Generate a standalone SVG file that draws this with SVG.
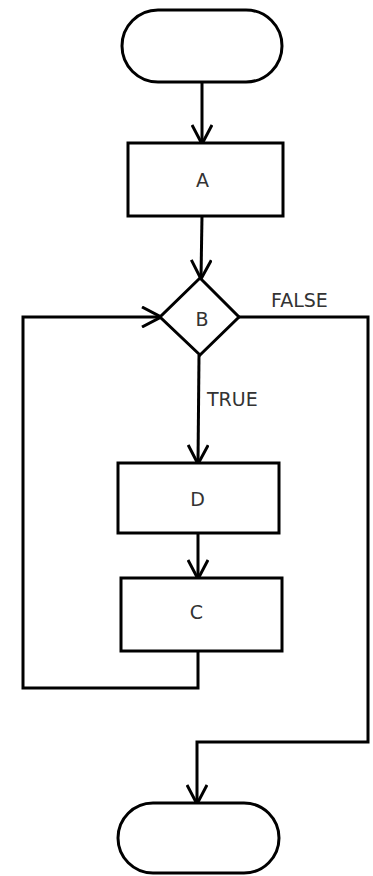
<svg xmlns="http://www.w3.org/2000/svg" width="373" height="876" viewBox="0 0 373 876">
<style>
.shape{fill:#fff;stroke:#000;stroke-width:3}
.edge{fill:none;stroke:#000;stroke-width:3}
.lbl{font-family:"DejaVu Sans",sans-serif;font-size:19px;fill:#333;text-anchor:middle;dominant-baseline:central}
.elbl{font-family:"DejaVu Sans",sans-serif;font-size:19px;fill:#333}
</style>
<defs>
<marker id="arr" viewBox="0 0 22 22" refX="19" refY="11" markerWidth="22" markerHeight="22" markerUnits="userSpaceOnUse" orient="auto">
<path d="M1,1 L20,11 L1,21" fill="none" stroke="#000" stroke-width="3"/>
</marker>
</defs>
<rect width="373" height="876" fill="#fff"/>
<g id="connectors">
<path class="edge" d="M202,82 L202,143" marker-end="url(#arr)"/>
<path class="edge" d="M202,216 L201,278" marker-end="url(#arr)"/>
<path class="edge" d="M199,355 L198,463" marker-end="url(#arr)"/>
<path class="edge" d="M198,533 L198,578" marker-end="url(#arr)"/>
<path class="edge" d="M198,651 L198,688 L23,688 L23,317 L160,317" marker-end="url(#arr)"/>
<path class="edge" d="M239,317 L368,317 L368,742 L197,742 L197,803" marker-end="url(#arr)"/>
<text class="elbl" x="271" y="307">FALSE</text>
<text class="elbl" x="207" y="406">TRUE</text>
</g>
<g id="start"><rect class="shape" x="122" y="10" width="160" height="72" rx="36" ry="36"/></g>
<g id="A"><rect class="shape" x="128" y="143" width="155" height="73"/><text class="lbl" x="202.5" y="180">A</text></g>
<g id="B"><polygon class="shape" points="200,278 239,317 200,355 160,317"/><text class="lbl" x="202" y="319">B</text></g>
<g id="D"><rect class="shape" x="118" y="463" width="161" height="70"/><text class="lbl" x="197.5" y="498.5">D</text></g>
<g id="C"><rect class="shape" x="121" y="578" width="161" height="73"/><text class="lbl" x="196.5" y="612">C</text></g>
<g id="end"><rect class="shape" x="118" y="803" width="161" height="70" rx="35" ry="35"/></g>
</svg>
